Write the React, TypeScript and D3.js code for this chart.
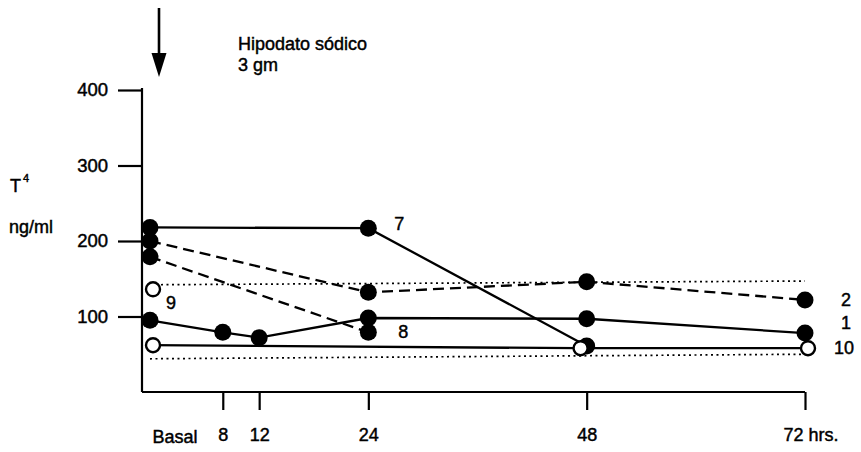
import React, { useEffect, useRef } from 'react';
import * as d3 from 'd3';

// hours after hipodato, T4 ng/ml
const s1Hours = [0, 8, 12, 24, 48, 72];
const s1Values = [95, 79, 72, 98, 97, 78];
const s2Hours = [0, 24, 48, 72];
const s2Values = [200, 132, 146, 122];
const s7Hours = [0, 24, 48];
const s7Values = [218, 217, 61];
const s8Hours = [0, 24];
const s8Values = [179, 79];
const s9Hours = [0];
const s9Values = [136];
const s10Hours = [0, 47, 72];
const s10Values = [62, 58, 58];

// normal range (dotted)
const rangeHours = [0, 72];
const upperValues = [142, 147];
const lowerValues = [44, 50];

const xTicks = [8, 12, 24, 48, 72];
const xTickLabels = ['8', '12', '24', '48', '72 hrs.'];
const yTicks = [100, 200, 300, 400];

const W = 861;
const H = 452;
const FONT = '"Liberation Sans", Arial, sans-serif';

const App = () => {
  const svgRef = useRef<SVGSVGElement>(null);

  useEffect(() => {
    const svg = d3.select(svgRef.current);
    svg.selectAll('*').remove();

    const x = d3.scaleLinear().domain([0, 72]).range([150, 805]);
    const y = d3.scaleLinear().domain([0, 400]).range([392, 90]);
    const axisX = 142;

    const g = svg.append('g');
    // scanned print type looks a bit heavier than Arial regular
    const styleText = (sel: any, size = 18) =>
      sel
        .attr('fill', '#000')
        .attr('stroke', '#000')
        .attr('stroke-width', 0.45)
        .style('font-family', FONT)
        .style('font-size', `${size}px`);

    // y axis
    const yAxis = d3.axisLeft(y).tickValues(yTicks).tickSize(24).tickPadding(10).tickSizeOuter(0);
    const ya = g.append('g').attr('transform', `translate(${axisX},0)`).call(yAxis);
    ya.select('.domain').attr('d', `M0,${y(400) - 2}V${y(0)}`);
    ya.selectAll('path, line').attr('stroke', '#000').attr('stroke-width', 2.2);
    styleText(ya.selectAll('text'), 18.5);

    // x axis
    const xAxis = d3.axisBottom(x).tickValues(xTicks).tickSize(18).tickFormat((d, i) => xTickLabels[i]).tickSizeOuter(0);
    const xa = g.append('g').attr('transform', `translate(0,${y(0)})`).call(xAxis);
    xa.select('.domain').attr('d', `M${axisX},0H${x(72)}`);
    xa.selectAll('path, line').attr('stroke', '#000').attr('stroke-width', 2.2);
    styleText(xa.selectAll('text').attr('y', 36));
    xa.selectAll('.tick').filter((d) => d === 72).select('text').attr('text-anchor', 'start').attr('dx', -22);

    styleText(g.append('text').attr('x', x(0) + 25).attr('y', y(0) + 51).attr('text-anchor', 'middle').text('Basal'));

    // y label
    const yl = styleText(g.append('text').attr('x', 10).attr('y', 192));
    yl.append('tspan').text('T');
    yl.append('tspan').attr('dx', 2).attr('dy', -10).style('font-size', '11px').text('4');
    styleText(g.append('text').attr('x', 9).attr('y', 233).text('ng/ml'));

    // arrow + annotation
    g.append('line').attr('x1', 159).attr('x2', 159).attr('y1', 8).attr('y2', 56).attr('stroke', '#000').attr('stroke-width', 2.6);
    g.append('path').attr('d', 'M151.5,53L166.5,53L159,77Z').attr('fill', '#000');
    styleText(g.append('text').attr('x', 238).attr('y', 50).text('Hipodato sódico'));
    styleText(g.append('text').attr('x', 238).attr('y', 71).text('3 gm'));

    const line = d3.line<[number, number]>().x((d) => x(d[0])).y((d) => y(d[1]));
    const zip = (hs: number[], vs: number[]) => hs.map((h, i) => [h, vs[i]] as [number, number]);

    // normal range
    [upperValues, lowerValues].forEach((vals) => {
      g.append('path')
        .attr('d', line(zip(rangeHours, vals)))
        .attr('fill', 'none')
        .attr('stroke', '#000')
        .attr('stroke-width', 1.7)
        .attr('stroke-dasharray', '2 3.5');
    });

    const series = [
      { hours: s2Hours, values: s2Values, dash: '11 6', open: false, label: '2', lx: 36, ly: 6 },
      { hours: s8Hours, values: s8Values, dash: '11 6', open: false, label: '8', lx: 30, ly: 6 },
      { hours: s7Hours, values: s7Values, dash: null, open: false, label: '7', lx: 0, ly: 0 },
      { hours: s1Hours, values: s1Values, dash: null, open: false, label: '1', lx: 36, ly: -4 },
      { hours: s10Hours, values: s10Values, dash: null, open: true, label: '10', lx: 29, ly: 6 },
      { hours: s9Hours, values: s9Values, dash: null, open: true, label: '9', lx: 16, ly: 20 },
    ];

    series.forEach((s) => {
      const pts = zip(s.hours, s.values);
      if (pts.length > 1) {
        g.append('path')
          .attr('d', line(pts))
          .attr('fill', 'none')
          .attr('stroke', '#000')
          .attr('stroke-width', 2.3)
          .attr('stroke-dasharray', s.dash);
      }
    });

    series.forEach((s) => {
      const pts = zip(s.hours, s.values);
      g.selectAll(null)
        .data(pts)
        .enter()
        .append('circle')
        .attr('cx', (d) => x(d[0]) + (s.open ? 3 : 0))
        .attr('cy', (d) => y(d[1]))
        .attr('r', s.open ? 7 : 8.5)
        .attr('fill', s.open ? '#fff' : '#000')
        .attr('stroke', '#000')
        .attr('stroke-width', s.open ? 2.4 : 0);
      if (s.label !== '7') {
        const last = pts[pts.length - 1];
        styleText(
          g.append('text')
            .attr('x', x(last[0]) + s.lx)
            .attr('y', y(last[1]) + s.ly)
            .text(s.label),
        );
      }
    });

    // label 7 sits next to the 24 h point
    styleText(g.append('text').attr('x', x(24) + 26).attr('y', y(s7Values[1]) + 2).text('7'));
  }, []);

  return <svg ref={svgRef} width={W} height={H} style={{ position: 'absolute', left: 0, top: 0, background: '#fff' }} />;
};

export default App;
